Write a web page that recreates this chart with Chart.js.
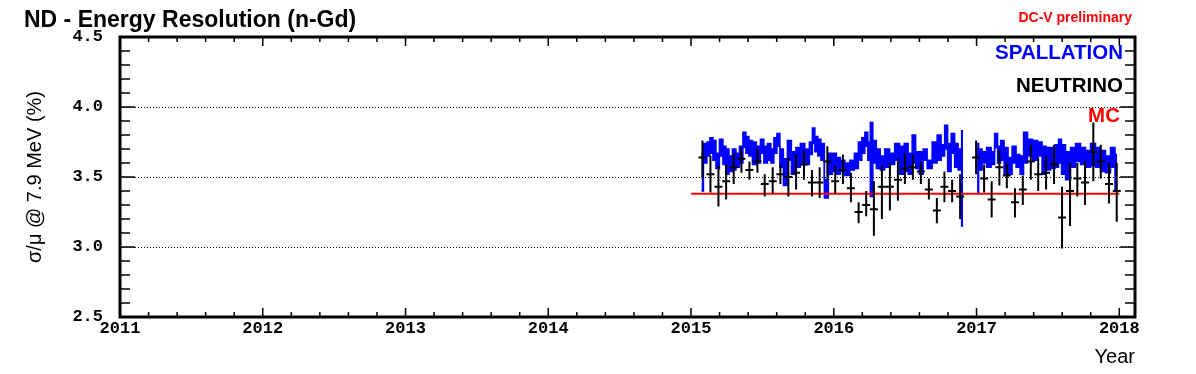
<!DOCTYPE html>
<html>
<head>
<meta charset="utf-8">
<script src="https://cdn.jsdelivr.net/npm/chart.js@4.4.1/dist/chart.umd.min.js"></script>
<style>
  html, body { margin: 0; padding: 0; background: #fff; }
</style>
</head>
<body>
<canvas id="chart" width="1196" height="374"></canvas>
<script>
// tick labels
const xTicks = [2011, 2012, 2013, 2014, 2015, 2016, 2017, 2018];
const yTicks = [2.5, 3.0, 3.5, 4.0, 4.5];

// spallation band (upper / lower envelope), null = no data
const spallTime = [
  2015.073, 2015.101, 2015.122, 2015.143, 2015.164, 2015.185, 2015.213, 2015.234, 2015.255, 2015.276,
  2015.304, 2015.325, 2015.353, 2015.374, 2015.395, 2015.416, 2015.444, 2015.472, 2015.500, 2015.521,
  2015.549, 2015.570, 2015.591, 2015.612, 2015.633, 2015.661, 2015.689, 2015.717, 2015.752, 2015.780,
  2015.815, 2015.843, 2015.857, 2015.878, 2015.899, 2015.920, 2015.948, 2015.976,
  2016.004, 2016.032, 2016.060, 2016.095, 2016.130, 2016.158, 2016.186, 2016.207, 2016.228, 2016.249,
  2016.263, 2016.284, 2016.312, 2016.339, 2016.374, 2016.409, 2016.444, 2016.479, 2016.507, 2016.535,
  2016.563, 2016.584, 2016.612, 2016.640, 2016.668, 2016.710, 2016.738, 2016.766, 2016.787, 2016.808,
  2016.836, 2016.857, 2016.885, 2016.906, 2016.955,
  2017.004, 2017.025, 2017.053, 2017.088, 2017.116, 2017.137, 2017.158, 2017.179, 2017.207, 2017.235,
  2017.263, 2017.291, 2017.319, 2017.340, 2017.375, 2017.410, 2017.445, 2017.473, 2017.501, 2017.536,
  2017.564, 2017.585, 2017.606, 2017.641, 2017.676, 2017.711, 2017.746, 2017.781, 2017.816, 2017.851,
  2017.886, 2017.921, 2017.956, 2017.984
];
const spallHigh = [
  3.67, 3.74, 3.75, 3.78, 3.76, 3.67, 3.77, 3.72, 3.70, 3.65,
  3.70, 3.67, 3.72, 3.82, 3.79, 3.76, 3.75, 3.72, 3.77, 3.72,
  3.74, 3.70, 3.78, 3.81, 3.70, 3.63, 3.76, 3.68, 3.71, 3.74,
  3.70, 3.75, 3.85, 3.79, 3.77, 3.74, 3.48, 3.67,
  3.67, 3.64, 3.62, 3.60, 3.62, 3.67, 3.75, 3.78, 3.82, 3.75,
  3.89, 3.76, 3.70, 3.65, 3.70, 3.67, 3.74, 3.72, 3.74, 3.67,
  3.80, 3.68, 3.68, 3.70, 3.62, 3.75, 3.80, 3.73, 3.87, 3.74,
  3.81, 3.74, 3.70, 3.83, null,
  3.74, 3.70, 3.68, 3.71, 3.68, 3.81, 3.72, 3.76, 3.71, 3.64,
  3.72, 3.66, 3.65, 3.82, 3.77, 3.76, 3.75, 3.72, 3.71, 3.71,
  3.73, 3.77, 3.73, 3.68, 3.71, 3.74, 3.71, 3.69, 3.74, 3.71,
  3.69, 3.65, 3.71, 3.66
];
const spallLow = [
  3.40, 3.60, 3.65, 3.67, 3.62, 3.56, 3.65, 3.59, 3.52, 3.54,
  3.55, 3.57, 3.60, 3.71, 3.67, 3.65, 3.59, 3.60, 3.67, 3.60,
  3.62, 3.60, 3.67, 3.72, 3.57, 3.44, 3.62, 3.52, 3.57, 3.60,
  3.59, 3.66, 3.74, 3.68, 3.65, 3.62, 3.35, 3.52,
  3.54, 3.52, 3.54, 3.51, 3.55, 3.56, 3.62, 3.67, 3.72, 3.62,
  3.36, 3.60, 3.56, 3.55, 3.57, 3.59, 3.62, 3.52, 3.54, 3.52,
  3.60, 3.56, 3.52, 3.62, 3.56, 3.60, 3.62, 3.65, 3.70, 3.54,
  3.67, 3.57, 3.55, 3.15, null,
  3.38, 3.55, 3.60, 3.57, 3.59, 3.71, 3.60, 3.62, 3.52, 3.52,
  3.60, 3.57, 3.52, 3.60, 3.65, 3.62, 3.65, 3.52, 3.55, 3.56,
  3.57, 3.60, 3.52, 3.48, 3.57, 3.61, 3.59, 3.57, 3.58, 3.57,
  3.54, 3.53, 3.57, 3.41
];

// neutrino points with error bars
const nuTime = [
  2015.080, 2015.136, 2015.192, 2015.246, 2015.299, 2015.353, 2015.409, 2015.465, 2015.516, 2015.572,
  2015.626, 2015.682, 2015.736, 2015.791, 2015.847, 2015.901, 2015.955,
  2016.010, 2016.064, 2016.120, 2016.174, 2016.227, 2016.281, 2016.337, 2016.393, 2016.449, 2016.498,
  2016.554, 2016.610, 2016.666, 2016.722, 2016.775, 2016.829, 2016.885, 2016.997,
  2017.053, 2017.106, 2017.160, 2017.212, 2017.269, 2017.324, 2017.380, 2017.432, 2017.487, 2017.543,
  2017.599, 2017.655, 2017.706, 2017.760, 2017.818, 2017.870, 2017.928, 2017.982
];
const nuValue = [
  3.64, 3.52, 3.43, 3.47, 3.57, 3.63, 3.55, 3.61, 3.45, 3.47,
  3.52, 3.50, 3.53, 3.59, 3.46, 3.46, 3.61,
  3.47, 3.55, 3.42, 3.25, 3.30, 3.27, 3.43, 3.43, 3.48, 3.56,
  3.57, 3.54, 3.41, 3.26, 3.43, 3.40, 3.36, 3.64,
  3.49, 3.34, 3.57, 3.51, 3.32, 3.41, 3.61, 3.52, 3.53, 3.59,
  3.21, 3.40, 3.49, 3.46, 3.68, 3.61, 3.45, 3.40
];
const nuHigh = [
  3.76, 3.65, 3.58, 3.59, 3.67, 3.71, 3.61, 3.70, 3.52, 3.57,
  3.59, 3.64, 3.66, 3.69, 3.55, 3.57, 3.72,
  3.58, 3.66, 3.53, 3.32, 3.40, 3.47, 3.58, 3.60, 3.63, 3.67,
  3.66, 3.61, 3.49, 3.35, 3.54, 3.48, 3.52, 3.76,
  3.59, 3.47, 3.69, 3.60, 3.42, 3.51, 3.73, 3.64, 3.65, 3.73,
  3.43, 3.60, 3.60, 3.61, 3.89, 3.73, 3.60, 3.60
];
const nuLow = [
  3.49, 3.39, 3.29, 3.34, 3.45, 3.53, 3.48, 3.53, 3.36, 3.38,
  3.45, 3.36, 3.41, 3.48, 3.36, 3.35, 3.48,
  3.38, 3.45, 3.32, 3.17, 3.22, 3.08, 3.20, 3.26, 3.33, 3.45,
  3.48, 3.45, 3.34, 3.17, 3.32, 3.32, 3.20, 3.52,
  3.39, 3.21, 3.44, 3.42, 3.21, 3.30, 3.48, 3.40, 3.41, 3.45,
  2.99, 3.15, 3.36, 3.30, 3.47, 3.49, 3.31, 3.18
];
const nuTimeErr = 0.028;

// MC reference
const mcTime = [2015.0, 2018.0];
const mcValue = [3.38, 3.38];

const toPoints = (xs, ys) => xs.map((t, i) => ({ x: t, y: ys[i] }));

// ROOT-like frame, inside ticks, error bars and texts
const rootStyle = {
  id: 'rootStyle',
  afterDatasetsDraw(chart) {
    const { ctx, scales: { x, y } } = chart;
    ctx.save();
    ctx.strokeStyle = '#000';
    ctx.lineWidth = 2;
    ctx.beginPath();
    nuTime.forEach((t, i) => {
      const px = x.getPixelForValue(t);
      const py = y.getPixelForValue(nuValue[i]);
      ctx.moveTo(px, y.getPixelForValue(nuHigh[i]));
      ctx.lineTo(px, y.getPixelForValue(nuLow[i]));
      ctx.moveTo(x.getPixelForValue(t - nuTimeErr), py);
      ctx.lineTo(x.getPixelForValue(t + nuTimeErr), py);
    });
    ctx.stroke();
    ctx.restore();
  },
  afterDraw(chart) {
    const { ctx, chartArea: a, scales: { x, y } } = chart;
    ctx.save();
    ctx.strokeStyle = '#000';

    // tick marks on all four sides, pointing in
    ctx.lineWidth = 1.5;
    ctx.beginPath();
    for (let k = 0; k <= 35; k++) {
      const v = x.min + k * 0.2;
      if (v > x.max) break;
      const px = x.getPixelForValue(v);
      const len = k % 5 === 0 ? 9 : 5;
      ctx.moveTo(px, a.bottom); ctx.lineTo(px, a.bottom - len);
      ctx.moveTo(px, a.top); ctx.lineTo(px, a.top + len);
    }
    for (let k = 0; k <= 20; k++) {
      const py = y.getPixelForValue(y.min + k * 0.1);
      const len = k % 5 === 0 ? 15 : 10;
      ctx.moveTo(a.left, py); ctx.lineTo(a.left + len, py);
      ctx.moveTo(a.right, py); ctx.lineTo(a.right - len, py);
    }
    ctx.stroke();

    // frame
    ctx.lineWidth = 3;
    ctx.strokeRect(a.left, a.top, a.right - a.left, a.bottom - a.top);

    // texts
    ctx.fillStyle = '#000';
    ctx.textBaseline = 'alphabetic';
    ctx.textAlign = 'left';
    ctx.font = 'bold 23px "Liberation Sans", Arial, sans-serif';
    ctx.fillText('ND - Energy Resolution (n-Gd)', 24, 27);

    ctx.textAlign = 'right';
    ctx.fillStyle = '#ff0000';
    ctx.font = 'bold 14px "Liberation Sans", Arial, sans-serif';
    ctx.fillText('DC-V preliminary', 1132, 22);

    ctx.font = 'bold 20.5px "Liberation Sans", Arial, sans-serif';
    ctx.fillStyle = '#0000ff';
    ctx.fillText('SPALLATION', 1123, 59);
    ctx.fillStyle = '#000';
    ctx.fillText('NEUTRINO', 1123, 92);
    ctx.fillStyle = '#ff0000';
    ctx.fillText('MC', 1120, 122);

    ctx.fillStyle = '#000';
    ctx.font = '20px "Liberation Sans", Arial, sans-serif';
    ctx.fillText('Year', 1135, 363);

    ctx.translate(35, 177);
    ctx.rotate(-Math.PI / 2);
    ctx.textAlign = 'center';
    ctx.textBaseline = 'middle';
    ctx.font = '20px "Liberation Sans", Arial, sans-serif';
    ctx.fillText('\u03c3/\u03bc @ 7.9 MeV (%)', 0, 0);
    ctx.restore();
  }
};

new Chart(document.getElementById('chart'), {
  type: 'line',
  data: {
    datasets: [
      {
        label: 'MC',
        data: toPoints(mcTime, mcValue),
        borderColor: '#ff0000',
        borderWidth: 2,
        pointRadius: 0,
        fill: false,
        order: 1
      },
      {
        label: 'SPALLATION high',
        data: toPoints(spallTime, spallHigh),
        borderColor: '#0000ff',
        borderWidth: 1.5,
        pointRadius: 0,
        stepped: 'middle',
        spanGaps: false,
        fill: false,
        order: 3
      },
      {
        label: 'SPALLATION low',
        data: toPoints(spallTime, spallLow),
        borderColor: '#0000ff',
        backgroundColor: '#0000ff',
        borderWidth: 1.5,
        pointRadius: 0,
        stepped: 'middle',
        spanGaps: false,
        fill: '-1',
        order: 2
      }
    ]
  },
  options: {
    responsive: false,
    animation: false,
    devicePixelRatio: 1,
    layout: { padding: { left: 0, top: 37, right: 61, bottom: 0 } },
    plugins: { legend: { display: false }, tooltip: { enabled: false }, title: { display: false } },
    scales: {
      x: {
        type: 'linear',
        min: 2011,
        max: 2018.11,
        afterBuildTicks: s => { s.ticks = xTicks.map(v => ({ value: v })); },
        afterFit: s => { s.height = 57; },
        grid: { display: false, drawTicks: false },
        border: { display: false },
        ticks: {
          autoSkip: false,
          maxRotation: 0,
          padding: 2,
          color: '#000',
          font: { family: '"Liberation Mono", "Courier New", monospace', weight: 'bold', size: 17 },
          callback: v => String(v)
        }
      },
      y: {
        type: 'linear',
        min: 2.5,
        max: 4.5,
        afterBuildTicks: s => { s.ticks = yTicks.map(v => ({ value: v })); },
        afterFit: s => { s.width = 120; },
        grid: { color: '#000', lineWidth: 1, drawTicks: false },
        border: { display: false, dash: [1, 2] },
        ticks: {
          padding: 17,
          color: '#000',
          font: { family: '"Liberation Mono", "Courier New", monospace', weight: 'bold', size: 17 },
          callback: v => v.toFixed(1)
        }
      }
    }
  },
  plugins: [rootStyle]
});
</script>
</body>
</html>
